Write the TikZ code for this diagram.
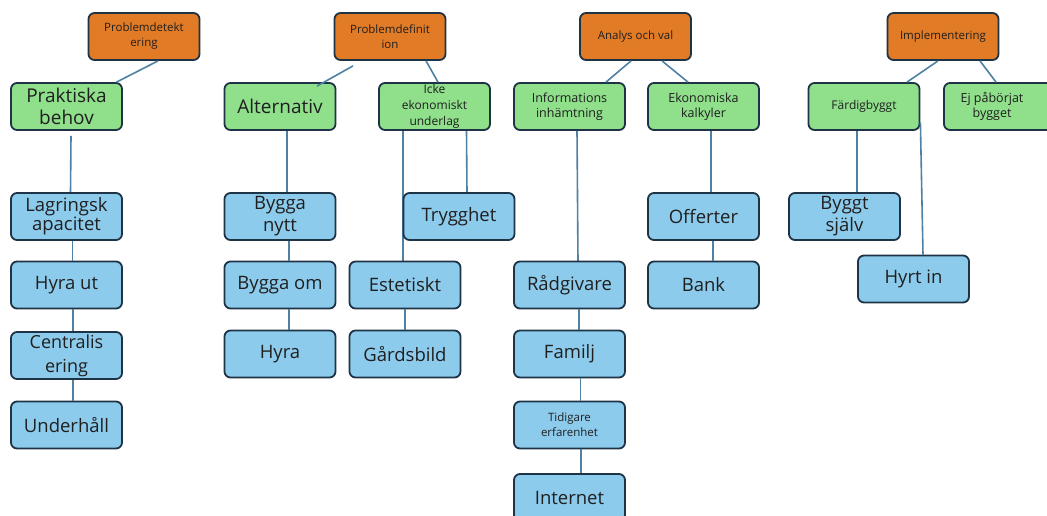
\documentclass[tikz,border=0pt]{standalone}
\usepackage{fontspec}
\setmainfont{Open Sans}
\definecolor{orfill}{HTML}{E27B25}
\definecolor{grfill}{HTML}{8FDF8B}
\definecolor{blfill}{HTML}{8DCBEC}
\definecolor{bord}{HTML}{1E3346}
\definecolor{conncol}{HTML}{4F81A4}
\definecolor{txtc}{HTML}{1F1F1F}
\tikzset{
  boxbase/.style={draw=bord, line width=1.8pt, rounded corners=6pt, inner sep=0pt,
    minimum width=111pt, minimum height=47pt, align=center, text=txtc},
  orbox/.style={boxbase, fill=orfill, font=\fontsize{11.5}{15}\selectfont},
  grbox/.style={boxbase, fill=grfill, font=\fontsize{12.5}{15.5}\selectfont},
  grbig/.style={boxbase, fill=grfill, font=\fontsize{19}{22}\selectfont},
  blbox/.style={boxbase, fill=blfill, font=\fontsize{18.5}{21}\selectfont},
  blsmall/.style={boxbase, fill=blfill, font=\fontsize{11.5}{15}\selectfont},
  conn/.style={draw=conncol, line width=1.6pt},
  plaintext/.style={inner sep=0pt, align=center, text=txtc}
}
\begin{document}
\begin{tikzpicture}[x=1pt,y=-1pt]
\useasboundingbox (0,0) rectangle (1047,515);
\clip (0,0) rectangle (1047,515);
\fill[white] (0,0) rectangle (1047,515);
% Orange boxes
\node[orbox] (pdet) at (144,36.5) {Problemdetekt\\ering};
\node[orbox] (pdef) at (390,36.5) {Problemdefinit\\ion};
\node[orbox] (anal) at (635.5,36.5) {Analys och val};
\node[orbox] (impl) at (943,36.5) {Implementering};
% Green boxes
\node[grbig] (prak) at (66.5,106.5) {Praktiska\\behov};
\node[grbig] (alt) at (280,106.5) {Alternativ};
\node[grbox, font=\fontsize{12}{16}\selectfont] (icke) at (434.5,106.5) {Icke\\ekonomiskt\\underlag};
\node[grbox] (info) at (569.5,106.5) {Informations\\inhämtning};
\node[grbox] (eko) at (703.5,106.5) {Ekonomiska\\kalkyler};
\node[grbox, font=\fontsize{12}{15}\selectfont] (fard) at (864,106.5) {Färdigbyggt};
\node[grbox] (ej) at (999.5,106.5) {};
\node[plaintext, font=\fontsize{12.5}{15.5}\selectfont] (ejt) at (992,106.5) {Ej påbörjat\\bygget};
% connectors (drawn before blue boxes so that they pass behind them)
\draw[conn] ([xshift=14pt]pdet.south) -- ([xshift=50pt]prak.north);
\draw[conn] ([xshift=4.5pt,yshift=-5pt]prak.south) -- (70.5,193);
\draw[conn] ([xshift=7pt]alt.south) -- (287,193);
\draw[conn] ([xshift=-31.5pt]icke.south) -- (403,262);
\draw[conn] ([xshift=32pt]icke.south) -- (467,193);
\draw[conn] ([xshift=36pt]pdef.south) -- ([xshift=3.5pt]icke.north);
\draw[conn] ([xshift=-4.5pt]anal.south) -- ([xshift=36.5pt]info.north);
\draw[conn] ([xshift=26.5pt]anal.south) -- ([xshift=-15.5pt]eko.north);
\draw[conn] ([xshift=7.5pt]info.south) -- (578,262);
\draw[conn] ([xshift=7.5pt]eko.south) -- (711,193);
\draw[conn] ([xshift=-5pt]impl.south) -- ([xshift=43pt]fard.north);
\draw[conn] ([xshift=37pt]impl.south) -- ([xshift=-3.5pt]ej.north);
\draw[conn] ([xshift=-7pt]fard.south) -- (857,193);
% Blue boxes
\node[blbox, font=\fontsize{18.5}{18}\selectfont] (lag) at (66.5,216.5) {Lagringsk\\apacitet};
\node[blbox] (hyut) at (66.5,285) {Hyra ut};
\node[blbox, font=\fontsize{18}{24}\selectfont] (cent) at (66.5,355.5) {Centralis\\ering};
\node[blbox] (und) at (66.5,425) {Underhåll};
\node[blbox, font=\fontsize{18.5}{22}\selectfont] (bnytt) at (280,216.5) {Bygga\\nytt};
\node[blbox] (bom) at (280,285) {Bygga om};
\node[blbox] (hyra) at (280,354) {Hyra};
\node[blbox] (tryg) at (459,216.5) {Trygghet};
\node[blbox] (est) at (405,285) {Estetiskt};
\node[blbox] (gard) at (405,354) {Gårdsbild};
\node[blbox] (rad) at (569.5,285) {Rådgivare};
\node[blbox] (fam) at (569.5,354) {Familj};
\node[blsmall] (tid) at (569.5,425) {Tidigare\\erfarenhet};
\node[blbox] (inet) at (569.5,497.5) {Internet};
\node[blbox] (off) at (703.5,216.5) {Offerter};
\node[blbox] (bank) at (703.5,285) {Bank};
\node[blbox, font=\fontsize{18.5}{22}\selectfont] (bsj) at (844.5,216.5) {Byggt\\själv};
\node[blbox] (hyin) at (913.5,279) {Hyrt in};
% chain connectors between blue boxes
\draw[conn] ([xshift=6pt]lag.south) -- ([xshift=6pt]hyut.north);
\draw[conn] ([xshift=6.5pt]hyut.south) -- ([xshift=6.5pt]cent.north);
\draw[conn] ([xshift=6.5pt]cent.south) -- ([xshift=6.5pt]und.north);
\draw[conn] ([xshift=9pt]bnytt.south) -- ([xshift=9pt]bom.north);
\draw[conn] ([xshift=9pt]bom.south) -- ([xshift=9pt]hyra.north);
\draw[conn] (est.south) -- (gard.north);
\draw[conn] ([xshift=9.5pt]rad.south) -- ([xshift=9.5pt]fam.north);
\draw[conn] ([xshift=11pt]fam.south) -- ([xshift=11pt]tid.north);
\draw[conn] ([xshift=11.5pt]tid.south) -- ([xshift=11.5pt]inet.north);
\draw[conn] ([xshift=9.5pt]off.south) -- ([xshift=9.5pt]bank.north);
% connectors drawn over boxes
\draw[conn] ([xshift=-37pt,yshift=-5pt]pdef.south) -- ([xshift=37pt,yshift=-4pt]alt.north);
\draw[conn] ([yshift=-16pt]fard.east) -- ([xshift=9.5pt]hyin.north);
\end{tikzpicture}
\end{document}
